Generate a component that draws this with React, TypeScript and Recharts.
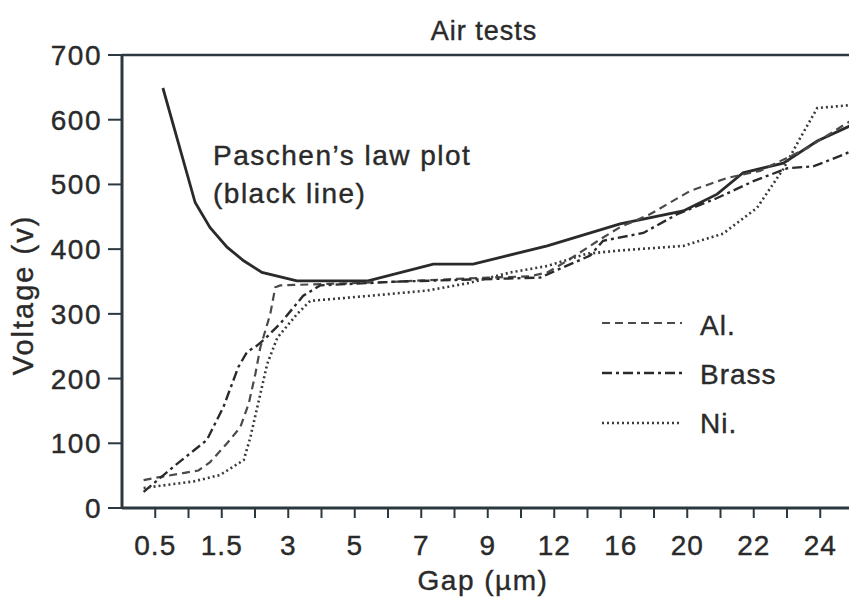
import React from "react";
import { LineChart, Line, XAxis, YAxis, ReferenceLine, Legend, Customized } from "recharts";

// Gap axis: tick positions (evenly spaced categories) and their labels
const tickPositions = [1, 2, 3, 4, 5, 6, 7, 8, 9, 10, 11, 12, 13, 14, 15, 16, 17, 18, 19, 20, 21];
const tickLabels = ["0.5", "", "1.5", "", "3", "", "5", "", "7", "", "9", "", "12", "", "16", "", "20", "", "22", "", "24"];
const voltageTicks = [0, 100, 200, 300, 400, 500, 600, 700];

// Paschen's law plot (black line)
const paschenGap = [1.23, 2.2, 2.65, 3.16, 3.66, 4.21, 5.26, 7.4, 9.36, 10.56, 12.79, 14.98, 16.88, 17.9, 18.68, 19.89, 20.91, 22.0];
const paschenVoltage = [649, 472, 433, 403, 382, 364, 351, 351, 377, 377, 405, 439, 459, 485, 518, 533, 567, 593];

// Al.
const alGap = [0.65, 0.94, 1.84, 2.3, 2.65, 3.16, 3.56, 3.81, 4.01, 4.16, 4.46, 4.61, 4.76, 6.65, 8.37, 10.47, 12.27, 12.79, 13.39, 14.47, 14.98, 15.88, 17.09, 18.2, 19.19, 20.6, 22.0];
const alVoltage = [43, 46, 54, 58, 71, 100, 125, 161, 207, 248, 300, 341, 344, 347, 350, 355, 358, 364, 382, 418, 434, 454, 490, 510, 521, 556, 601];

// Brass
const brassGap = [0.65, 1.6, 2.55, 3.05, 3.5, 3.76, 4.06, 4.31, 4.76, 5.45, 5.96, 8.37, 10.47, 12.58, 13.18, 14.08, 14.47, 15.68, 16.7, 17.9, 18.99, 20.01, 20.79, 21.6, 22.0];
const brassVoltage = [25, 66, 105, 156, 218, 241, 251, 262, 285, 328, 344, 350, 353, 356, 370, 390, 413, 425, 454, 479, 505, 525, 528, 544, 553];

// Ni.
const niGap = [0.65, 2.15, 2.95, 3.66, 3.86, 4.07, 4.37, 4.67, 5.27, 5.66, 7.47, 9.18, 10.47, 11.68, 12.79, 13.99, 14.98, 16.88, 18.08, 19.1, 19.89, 20.4, 20.91, 22.0];
const niVoltage = [31, 41, 51, 74, 109, 156, 223, 263, 300, 320, 328, 336, 348, 364, 374, 393, 398, 405, 424, 464, 524, 572, 618, 623];

const toPoints = (g: number[], v: number[]) => g.map((x, i) => ({ gap: x, voltage: v[i] }));

const FONT = "'Liberation Sans', Arial, Helvetica, sans-serif";
const AXIS = "#2c3840";
const TEXT = "#2a2a2a";

const series = [
  { name: "Al.", color: "#4a4a4a", width: 2.2, dash: "8 5" },
  { name: "Brass", color: "#2a2a2a", width: 2.4, dash: "10 4 3 4" },
  { name: "Ni.", color: "#3a3a3a", width: 2.6, dash: "2 3" },
];

const renderLegend = () => (
  <svg width={220} height={140} style={{ fontFamily: FONT }}>
    {series.map((s, k) => (
      <g key={s.name}>
        <line x1={0} x2={80} y1={18 + k * 50} y2={18 + k * 50} stroke={s.color} strokeWidth={s.width} strokeDasharray={s.dash} />
        <text x={98} y={30 + k * 49} fontSize={28} fill={TEXT} stroke={TEXT} strokeWidth={0.4} letterSpacing={1}>{s.name}</text>
      </g>
    ))}
  </svg>
);

const Annotations = () => (
  <g style={{ fontFamily: FONT }} fill={TEXT} stroke={TEXT} strokeWidth={0.4} fontSize={28} letterSpacing={1.5}>
    <text x={484} y={40} textAnchor="middle" fontSize={27} letterSpacing={1}>Air tests</text>
    <text x={213} y={165}>Paschen’s law plot</text>
    <text x={213} y={203}>(black line)</text>
    <text transform="rotate(-90)" x={-295} y={33} textAnchor="middle" fontSize={29} letterSpacing={2}>Voltage (v)</text>
    <text x={483} y={590} textAnchor="middle">Gap (µm)</text>
  </g>
);

export default function App() {
  return (
    <div style={{ position: "absolute", left: 0, top: 0, width: 849, height: 603, overflow: "hidden", background: "#fff", fontFamily: FONT }}>
      <LineChart width={860} height={603} margin={{ top: 55, right: 6.5, bottom: 0, left: 0 }}>
        <XAxis
          type="number"
          dataKey="gap"
          domain={[0, 22]}
          ticks={tickPositions}
          tickFormatter={(v: number) => tickLabels[v - 1] ?? ""}
          interval={0}
          height={95}
          tickSize={10}
          tickMargin={17}
          tick={{ fontSize: 28, fill: TEXT, stroke: TEXT, strokeWidth: 0.4, letterSpacing: 1 }}
          axisLine={{ stroke: AXIS, strokeWidth: 3 }}
          tickLine={{ stroke: AXIS, strokeWidth: 2 }}
          allowDataOverflow
        />
        <YAxis
          type="number"
          dataKey="voltage"
          domain={[0, 700]}
          ticks={voltageTicks}
          interval={0}
          width={122}
          tickSize={14}
          tickMargin={6}
          tick={{ fontSize: 28, fill: TEXT, stroke: TEXT, strokeWidth: 0.4, letterSpacing: 1.5 }}
          axisLine={{ stroke: AXIS, strokeWidth: 3 }}
          tickLine={{ stroke: AXIS, strokeWidth: 2 }}
        />
        <ReferenceLine y={700} stroke={AXIS} strokeWidth={2.5} />
        <Line data={toPoints(paschenGap, paschenVoltage)} dataKey="voltage" name="Paschen" stroke="#2a2a2a" strokeWidth={2.8} dot={false} isAnimationActive={false} legendType="none" />
        <Line data={toPoints(alGap, alVoltage)} dataKey="voltage" name="Al." stroke={series[0].color} strokeWidth={series[0].width} strokeDasharray={series[0].dash} dot={false} isAnimationActive={false} />
        <Line data={toPoints(brassGap, brassVoltage)} dataKey="voltage" name="Brass" stroke={series[1].color} strokeWidth={series[1].width} strokeDasharray={series[1].dash} dot={false} isAnimationActive={false} />
        <Line data={toPoints(niGap, niVoltage)} dataKey="voltage" name="Ni." stroke={series[2].color} strokeWidth={series[2].width} strokeDasharray={series[2].dash} dot={false} isAnimationActive={false} />
        <Legend
          layout="horizontal"
          verticalAlign="middle"
          align="center"
          content={renderLegend}
          wrapperStyle={{ position: "absolute", left: 602, top: 305, width: 220, height: 140 }}
        />
        <Customized component={Annotations} />
      </LineChart>
    </div>
  );
}
